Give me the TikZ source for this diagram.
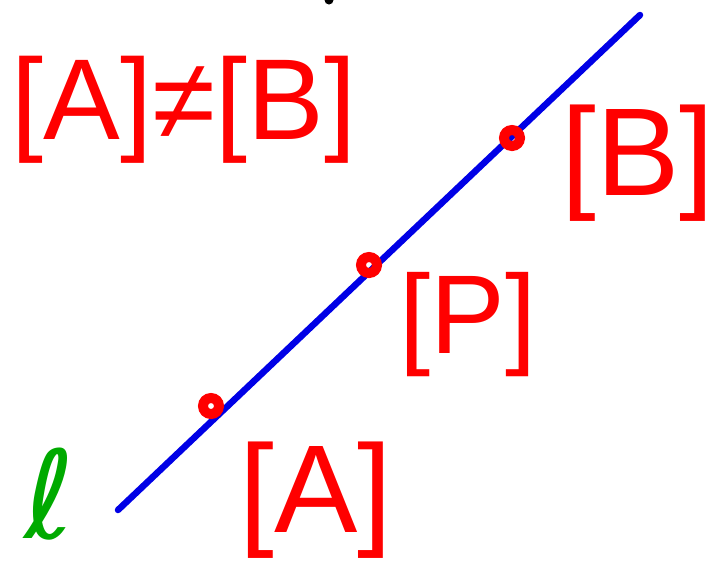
\documentclass[tikz,border=0pt]{standalone}
\usepackage{fontspec}
\setmainfont{Liberation Sans}
\newfontfamily\ellfont{DejaVu Sans}
\definecolor{pen red}{RGB}{255,0,0}
\definecolor{pen blue}{RGB}{0,0,230}
\definecolor{pen green}{RGB}{0,170,0}
\begin{document}
\begin{tikzpicture}[x=1pt,y=-1pt,
  label text/.style={text=pen red,inner sep=0pt,font=\fontsize{#1}{#1}\selectfont},
  mark dot/.style={circle,draw=pen red,line width=10pt,minimum size=16pt,inner sep=0pt},
  line stroke/.style={draw=pen blue,line width=6.5pt,line cap=round}]
\useasboundingbox (0,0) rectangle (721,568);
% line l
\coordinate (l1) at (118,510);
\coordinate (l2) at (640,15);
\draw[line stroke] (l1) -- (l2);
% points
\node[mark dot] (pA) at (211,406) {};
\node[mark dot] (pP) at (369,265) {};
\node[mark dot] (pB) at (512,138) {};
% labels
\node[label text=125] (tA) at (316,500) {[A]};
\node[label text=112] (tP) at (468,325) {[P]};
\node[label text=125] (tB) at (638,163) {[B]};
\node[label text=115] (tAB) at (184,110) {[A]≠[B]};
\node[text=pen green,inner sep=0pt,font=\ellfont\fontsize{122}{122}\selectfont] (ell) at (50,494) {ℓ};
% small black mark at the top
\fill (329,0) circle (4.5pt);
\end{tikzpicture}
\end{document}
